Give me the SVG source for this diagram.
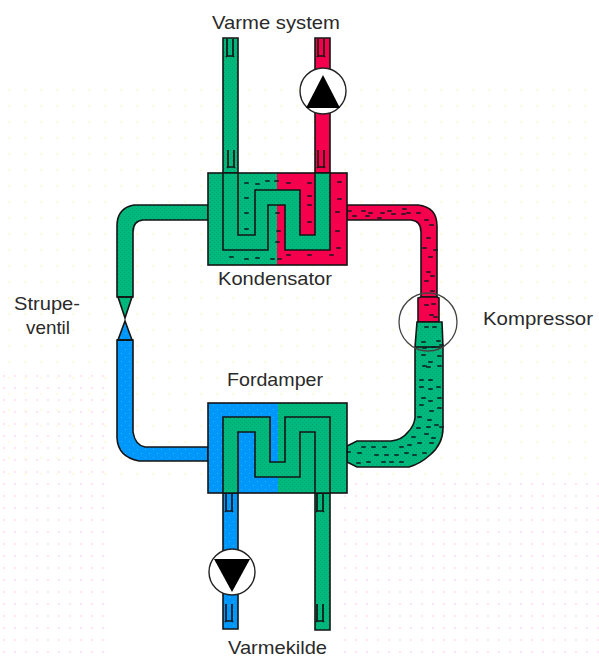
<svg xmlns="http://www.w3.org/2000/svg" width="599" height="657" viewBox="0 0 599 657">
<style>
text{font-family:"Liberation Sans",Arial,sans-serif;font-size:19px;fill:#2a2a2a}
.o{stroke:#141414;stroke-width:1.6;stroke-linejoin:miter}
.g{fill:url(#gt)}.r{fill:#f5004c}.b{fill:url(#bt)}
.nf{fill:none}
.d{fill:none;stroke:#101820;stroke-width:1.5;stroke-linecap:square}
.t{fill:none;stroke:#141414;stroke-width:1.7}
</style>
<defs>
<pattern id="gt" width="4" height="4" patternUnits="userSpaceOnUse"><rect width="4" height="4" fill="#00b97c"/><rect x="0" y="0" width="1" height="1" fill="#00a070"/><rect x="2" y="2" width="1" height="1" fill="#00a070"/></pattern>
<pattern id="bt" width="8" height="8" patternUnits="userSpaceOnUse"><rect width="8" height="8" fill="#0097fb"/><rect x="1" y="1" width="1" height="1" fill="#28b4ff"/><rect x="5" y="5" width="1" height="1" fill="#28b4ff"/></pattern>
<pattern id="pk" width="11" height="12" patternUnits="userSpaceOnUse"><rect x="3" y="3" width="2" height="2" fill="#fde4f6"/></pattern>
<pattern id="yl" width="16" height="16" patternUnits="userSpaceOnUse"><rect x="8" y="9" width="2" height="2" fill="#fefbdc"/></pattern>
<g id="th"><path class="t" d="M0,0V17H6V0M0,17l-1,1M6,17l1,1"/></g>
</defs>
<rect width="599" height="657" fill="#fff"/>
<rect x="0" y="365" width="112" height="292" fill="url(#pk)"/>
<rect x="340" y="480" width="259" height="177" fill="url(#pk)"/>
<rect x="0" y="80" width="599" height="400" fill="url(#yl)"/>
<g id="connectors">
<path class="o r" d="M347,205H418Q437,207 437,226V297H421V232Q421,221 411,220H347Z"/>
<path class="o r" d="M421,297H437L439,298V322H418V298Z"/>
<path class="o g" d="M417,322H442L443,347V428Q443,444 430,455Q420,464 409,467H357L347,462V446L357,441H391Q402,440 408,432Q414,426 415,418V347Z"/>
<path class="o" fill="none" d="M415,347H443"/>
<path class="o g" d="M208,205H134Q117,208 117,226V297H133V232Q133,221 143,220H208Z"/>
<path class="o b" d="M133,340V432Q135,445 145,447H208V461H139Q118,457 117,438V340Z"/>
<path class="o g" d="M223,38H238V173H223Z"/>
<path class="o r" d="M315,38H330V72H315Z"/>
<path class="o r" d="M315,112H330V173H315Z"/>
<path class="o b" d="M223,493H238V553H223Z"/>
<path class="o b" d="M223,592H238V629H223Z"/>
<path class="o g" d="M315,493H330V630H315Z"/>
</g>
<g id="kondensator">
<rect class="g" x="208" y="173" width="69" height="92"/>
<rect class="r" x="277" y="173" width="70" height="92"/>
<rect class="o nf" x="208" y="173" width="139" height="92"/>
<path class="o g" d="M223,173V250H268V205H285V250H330V173H315V235H300V190H255V235H238V173Z"/>
</g>
<g id="fordamper">
<rect class="b" x="208" y="403" width="70" height="90"/>
<rect class="g" x="278" y="403" width="69" height="90"/>
<rect class="o nf" x="208" y="403" width="139" height="90"/>
<path class="o g" d="M223,493V417H270V462H285V417H330V493H315V432H300V477H255V432H238V493Z"/>
</g>
<g id="strupeventil">
<path class="o g" d="M118,297H132L125,318Z"/>
<path class="o b" d="M125,321L132,340H118Z"/>
<path class="o" fill="none" d="M117,297H133M117,340H133"/>
</g>
<g id="pumpe-varme">
<circle cx="323" cy="91" r="23" fill="#fff" stroke="#222" stroke-width="1.4"/>
<path fill="#000" d="M323,75L340,108H306Z"/>
</g>
<g id="pumpe-kilde">
<circle cx="232" cy="572" r="23" fill="#fff" stroke="#222" stroke-width="1.4"/>
<path fill="#000" d="M214,559H250L232,592Z"/>
</g>
<g id="kompressor">
<circle cx="428" cy="322" r="29" fill="none" stroke="#444" stroke-width="1.3"/>
</g>
<g id="sensorer">
<use href="#th" x="227" y="39"/><use href="#th" x="228" y="150"/>
<use href="#th" x="318" y="39"/><use href="#th" x="318" y="150"/>
<use href="#th" x="226" y="494"/><use href="#th" x="226" y="604"/>
<use href="#th" x="317" y="494"/><use href="#th" x="317" y="604"/>
</g>
<path class="d" id="drops" d="M245,183h3M256,184h3M266,181h3M275,181h3M245,198h3M245,213h3M245,229h3M276,213h3M277,231h3M276,242h3M230,257h3M245,259h3M256,258h3M271,259h3M278,259h3M287,183h3M308,183h3M338,182h3M308,196h3M308,205h3M308,222h3M338,199h3M336,212h3M336,231h3M337,248h3M287,255h3M308,255h3M330,255h3M348,211h3M353,216h3M362,211h3M369,213h3M366,216h3M378,218h3M381,213h3M388,211h3M392,214h3M403,209h3M402,214h3M407,213h3M417,213h3M425,220h3M430,225h3M427,238h3M434,250h3M423,248h3M429,257h3M427,272h3M431,276h3M425,281h3M431,291h3M425,305h3M432,304h3M430,315h3M434,317h3M425,327h3M433,327h3M422,342h3M437,341h3M440,345h3M423,348h3M432,347h3M422,355h3M429,362h3M438,356h3M423,366h3M427,367h3M438,366h3M420,380h3M429,380h3M420,387h3M429,389h3M437,387h3M422,398h3M429,401h3M438,398h3M420,405h3M430,411h3M438,408h3M418,417h3M428,420h3M435,425h3M417,428h3M427,427h3M440,427h3M412,437h3M425,434h3M432,438h3M418,443h3M430,443h3M408,445h3M423,453h3M413,455h3M400,447h3M383,447h3M372,447h3M362,447h3M358,453h3M375,455h3M385,455h3M395,455h3M405,453h3M367,462h3M382,462h3M390,462h3M400,462h3M357,463h3M347,452h3"/>
<g id="labels">
<text x="212" y="29" textLength="128" lengthAdjust="spacingAndGlyphs">Varme system</text>
<text x="218" y="285" textLength="114" lengthAdjust="spacingAndGlyphs">Kondensator</text>
<text x="14" y="310" textLength="66" lengthAdjust="spacingAndGlyphs">Strupe-</text>
<text x="26" y="334" textLength="44" lengthAdjust="spacingAndGlyphs">ventil</text>
<text x="483" y="325" textLength="110" lengthAdjust="spacingAndGlyphs">Kompressor</text>
<text x="227" y="386" textLength="96" lengthAdjust="spacingAndGlyphs">Fordamper</text>
<text x="228" y="654" textLength="99" lengthAdjust="spacingAndGlyphs">Varmekilde</text>
</g>
</svg>
